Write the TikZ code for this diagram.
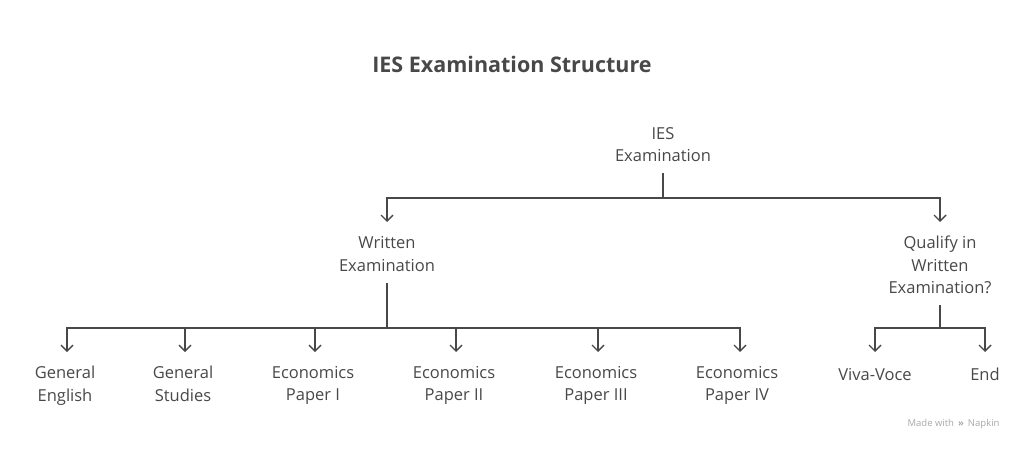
\documentclass[tikz,border=0pt]{standalone}
\usepackage{fontspec}
\setmainfont{Open Sans}
\usetikzlibrary{arrows.meta}
\definecolor{ink}{HTML}{484848}
\definecolor{faint}{HTML}{A8A8A8}
\tikzset{
  lbl/.style={text=ink, font=\fontsize{16.5}{22.5}\selectfont, align=center, inner sep=0pt,
    execute at begin node=\strut, execute at end node=\strut},
  conn/.style={draw=ink, line width=1.4pt},
  arr/.style={conn, -{Straight Barb[length=6pt,width=12pt,line width=1.4pt]}},
}
\begin{document}
\begin{tikzpicture}[x=1pt,y=-1pt]
\useasboundingbox (0,0) rectangle (1024,450);
\node[text=ink, font=\fontsize{21.5}{24}\selectfont\bfseries] (title) at (512,64) {IES Examination Structure};

\node[lbl] (ies) at (663,148) {IES\\Examination};
\node[lbl] (wr) at (387,257.5) {Written\\Examination};
\node[lbl] (q) at (940,268.5) {Qualify in\\Written\\Examination?};

\node[lbl] (ge) at (65,387) {General\\English};
\node[lbl] (gs) at (183,387) {General\\Studies};
\node[lbl] (e1) at (313,387) {Economics\\Paper I};
\node[lbl] (e2) at (454,387) {Economics\\Paper II};
\node[lbl] (e3) at (596,387) {Economics\\Paper III};
\node[lbl] (e4) at (737,387) {Economics\\Paper IV};
\node[lbl] (vv) at (875,375.5) {Viva-Voce};
\node[lbl] (en) at (985,375.5) {End};

\coordinate (j1) at (663,198);
\coordinate (j2) at (387,328);
\coordinate (j3) at (940,328);

\draw[conn] (663,173) -- (j1);
\draw[arr] (j1) -| (387,222);
\draw[arr] (j1) -| (940,222);

\draw[conn] (387,283) -- (j2);
\foreach \x in {67,185,315,456,598,740}{
  \draw[arr] (j2) -| (\x,352);
}
\draw[conn] (940,305) -- (j3);
\draw[arr] (j3) -| (875,352);
\draw[arr] (j3) -| (985,352);

\node[text=faint, font=\fontsize{9.5}{11}\selectfont, anchor=east] (napkin) at (1003,424) {Made with \,\raisebox{-0.5pt}{\textbf{\guillemotright}}\, Napkin};
\end{tikzpicture}
\end{document}
